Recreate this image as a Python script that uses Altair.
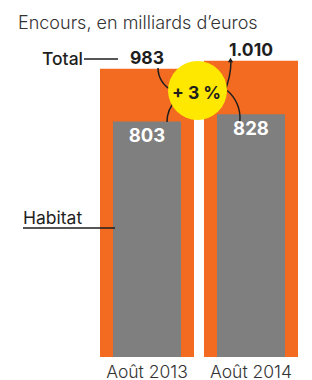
import altair as alt
import pandas as pd

# ---- data ----
periods = ["Août 2013", "Août 2014"]
total = [983, 1010]
total_labels = ["983", "1.010"]
habitat = [803, 828]
habitat_labels = ["803", "828"]
subtitle = "Encours, en milliards d\u2019euros"
growth_label = "+ 3 %"

df = pd.DataFrame({
    "period": periods,
    "total": total,
    "total_label": total_labels,
    "habitat": habitat,
    "habitat_label": habitat_labels,
})

FONT = "Inter"
ORANGE = "#F26B21"
GRAY = "#7F7F7F"
YELLOW = "#FFE800"
INK = "#1e1e1e"

x_enc = alt.X(
    "period:N",
    sort=periods,
    scale=alt.Scale(range=[92, 290], paddingInner=0.096, paddingOuter=0),
    axis=alt.Axis(title=None, domain=False, ticks=False, tickSize=0, labelPadding=6,
                  labelFontSize=17.5, labelColor="#333333", labelAngle=0, labelFont=FONT,
                  labelFontWeight=300),
)
y_scale = alt.Scale(domain=[0, 1190], nice=False, zero=True)

base = alt.Chart(df)

orange = base.mark_bar(color=ORANGE, cornerRadius=0).encode(
    x=x_enc, y=alt.Y("total:Q", scale=y_scale, axis=None)
)
gray = base.mark_bar(color=GRAY, width=68).encode(
    x=x_enc, y=alt.Y("habitat:Q", scale=y_scale, axis=None)
)
total_txt = base.mark_text(font=FONT, fontSize=17.5, fontWeight="bold", color=INK,
                           baseline="alphabetic", dy=-5).encode(
    x=x_enc, y=alt.Y("total:Q", scale=y_scale, axis=None), text="total_label:N"
)
hab_txt = base.mark_text(font=FONT, fontSize=18.5, fontWeight="bold", color="white",
                         baseline="alphabetic", dy=21).encode(
    x=x_enc, y=alt.Y("habitat:Q", scale=y_scale, axis=None), text="habitat_label:N"
)

one = pd.DataFrame({"a": [0]})
ann = alt.Chart(one)


def arc(cx, cy, r, t1, t2):
    return ann.mark_arc(filled=False, stroke=INK, strokeWidth=1.5, radius=r, radius2=r,
                        theta=t1, theta2=t2).encode(x=alt.value(cx), y=alt.value(cy))


arcs = [
    arc(175, 60, 25, 3.6, 4.71),
    arc(190, 114, 31, 4.71, 5.5),
    arc(142, 52, 81, 1.57, 2.0),
    arc(196, 110, 36, 0.7, 1.66),
]

circle = ann.mark_circle(color=YELLOW, opacity=1, size=3481).encode(
    x=alt.value(189.5), y=alt.value(82.5)
)
growth = ann.mark_text(font=FONT, fontSize=17.5, fontWeight="bold", color=INK,
                       baseline="middle", align="center", text=growth_label).encode(
    x=alt.value(188.5), y=alt.value(86)
)
arrowhead = ann.mark_point(shape="triangle-up", filled=True, color=INK, size=28, opacity=1).encode(
    x=alt.value(222.5), y=alt.value(52)
)

sub = ann.mark_text(font=FONT, fontSize=18, fontWeight=300, color="#333333",
                    align="left", baseline="alphabetic", text=subtitle).encode(
    x=alt.value(10), y=alt.value(21)
)
total_word = ann.mark_text(font=FONT, fontSize=17.5, fontWeight=500, color=INK,
                           align="right", baseline="alphabetic", text="Total").encode(
    x=alt.value(75), y=alt.value(57)
)
total_line = ann.mark_rule(color=INK, strokeWidth=1.5).encode(
    x=alt.value(76), x2=alt.value(110), y=alt.value(51)
)
hab_word = ann.mark_text(font=FONT, fontSize=17.5, fontWeight=400, color=INK,
                         align="left", baseline="alphabetic", text="Habitat").encode(
    x=alt.value(15), y=alt.value(216)
)
hab_line = ann.mark_rule(color=INK, strokeWidth=1.5).encode(
    x=alt.value(15), x2=alt.value(107), y=alt.value(220)
)

chart = alt.layer(
    orange, gray, total_txt, hab_txt, *arcs, circle, growth, arrowhead,
    sub, total_word, total_line, hab_word, hab_line,
).properties(
    width=296, height=349,
    autosize=alt.AutoSizeParams(type="none"),
    padding={"left": 0, "top": 0, "right": 0, "bottom": 23},
).configure_view(stroke=None)

chart.save("out.html", embed_options={"renderer": "svg", "actions": False})
